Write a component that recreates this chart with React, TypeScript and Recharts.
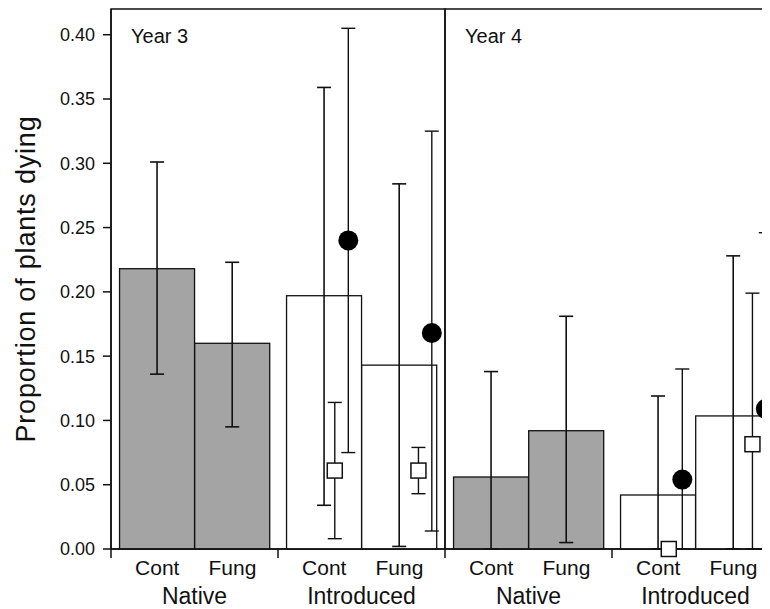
import React from 'react';
import {
  ComposedChart,
  Bar,
  Cell,
  Scatter,
  ErrorBar,
  XAxis,
  YAxis,
  ReferenceArea,
} from 'recharts';

const panels = ['Year 3', 'Year 4'];
const origins = ['Native', 'Introduced'];
const treatments = ['Cont', 'Fung'];

// bars, ordered panel -> origin -> treatment
const barMean = [0.218, 0.16, 0.197, 0.143, 0.056, 0.092, 0.042, 0.1035];
const barLow = [0.136, 0.095, 0.034, 0.002, 0, 0.005, 0, 0];
const barHigh = [0.301, 0.223, 0.359, 0.284, 0.138, 0.181, 0.119, 0.228];

// extra estimates for introduced plants only, ordered panel -> treatment
const circleMean = [0.24, 0.168, 0.054, 0.109];
const circleLow = [0.075, 0.014, 0, 0];
const circleHigh = [0.405, 0.325, 0.14, 0.246];

const squareMean = [0.061, 0.061, 0, 0.0815];
const squareLow = [0.008, 0.043, 0, 0];
const squareHigh = [0.114, 0.079, 0, 0.199];

const yTicks = [0, 0.05, 0.1, 0.15, 0.2, 0.25, 0.3, 0.35, 0.4];

// each origin group takes one unit of the x axis, a panel two
const TREAT_POS = [0.277, 0.727];
const SQUARE_SHIFT = [0.063, 0.114];
const CIRCLE_SHIFT = [0.144, 0.194];
const BAR_W = 75;

const FONT = '"Liberation Sans", Arial, Helvetica, sans-serif';
const INK = '#111';

const barRows = barMean.map((mean, i) => {
  const p = Math.floor(i / 4);
  const o = Math.floor(i / 2) % 2;
  const t = i % 2;
  return {
    x: p * 2 + o + TREAT_POS[t],
    mean,
    err: [mean - barLow[i], barHigh[i] - mean],
    origin: origins[o],
  };
});

const introRows = (means: number[], lows: number[], highs: number[], shift: number[]) =>
  means.map((mean, i) => {
    const p = Math.floor(i / 2);
    const t = i % 2;
    return {
      x: p * 2 + 1 + TREAT_POS[t] + shift[t],
      mean,
      err: [mean - lows[i], highs[i] - mean],
    };
  });

const circleRows = introRows(circleMean, circleLow, circleHigh, CIRCLE_SHIFT);
const squareRows = introRows(squareMean, squareLow, squareHigh, SQUARE_SHIFT);

// x ticks: group borders get a mark, bars a treatment name, groups an origin name
const tickInfo: Record<string, { kind: string; text?: string }> = {};
const xTicks: number[] = [];
panels.forEach((_, p) => {
  origins.forEach((origin, o) => {
    const base = p * 2 + o;
    xTicks.push(base);
    tickInfo[base.toFixed(3)] = { kind: 'mark' };
    treatments.forEach((tr, t) => {
      const v = base + TREAT_POS[t];
      xTicks.push(v);
      tickInfo[v.toFixed(3)] = { kind: 'treat', text: tr };
    });
    const c = base + 0.5;
    xTicks.push(c);
    tickInfo[c.toFixed(3)] = { kind: 'origin', text: origin };
  });
});
xTicks.sort((a, b) => a - b);

const XTick = ({ x, y, payload }: any) => {
  const info = tickInfo[Number(payload.value).toFixed(3)];
  if (!info) return null;
  if (info.kind === 'mark') {
    return <line x1={x} x2={x} y1={y} y2={y + 9} stroke={INK} strokeWidth={1.5} />;
  }
  const isTreat = info.kind === 'treat';
  return (
    <text
      x={x}
      y={y + (isTreat ? 26 : 55)}
      textAnchor="middle"
      fontFamily={FONT}
      fontSize={isTreat ? 21 : 23}
      fill={INK}
    >
      {info.text}
    </text>
  );
};

// bar drawn at a fixed width around the centre recharts computes
const BarShape = (props: any) => {
  const cx = props.x + props.width / 2;
  return (
    <rect
      x={cx - BAR_W / 2}
      y={props.y}
      width={BAR_W}
      height={props.height}
      fill={props.fill}
      stroke={INK}
      strokeWidth={1.3}
    />
  );
};

const Circle = (props: any) => <circle cx={props.cx} cy={props.cy} r={10} fill="#000" />;
const Square = (props: any) => (
  <rect
    x={props.cx - 7.5}
    y={props.cy - 7.5}
    width={15}
    height={15}
    fill="#fff"
    stroke={INK}
    strokeWidth={1.5}
  />
);

export default function App() {
  return (
    <div style={{ width: 762, height: 601, overflow: 'hidden' }}>
      <ComposedChart
        width={771}
        height={601}
        data={barRows}
        margin={{ top: 1, right: 0, bottom: 0, left: 0 }}
      >
        <XAxis
          dataKey="x"
          type="number"
          domain={[0, 4]}
          ticks={xTicks}
          interval={0}
          tick={<XTick />}
          tickLine={false}
          tickSize={0}
          tickMargin={0}
          height={60}
          axisLine={{ stroke: INK, strokeWidth: 1.5 }}
        />
        <YAxis
          type="number"
          domain={[0, 0.42]}
          ticks={yTicks}
          interval={0}
          width={103}
          tickSize={8}
          tickMargin={8}
          tickFormatter={(v: number) => v.toFixed(2)}
          tick={{ fill: INK, fontSize: 18, fontFamily: FONT }}
          tickLine={{ stroke: INK, strokeWidth: 1.5 }}
          axisLine={{ stroke: INK, strokeWidth: 1.5 }}
          label={{
            value: 'Proportion of plants dying',
            angle: -90,
            position: 'insideLeft',
            offset: 17,
            fontSize: 27,
            fontFamily: FONT,
            fill: INK,
            letterSpacing: 0.8,
            style: { textAnchor: 'middle' },
          }}
        />
        <Bar dataKey="mean" shape={<BarShape />} isAnimationActive={false}>
          {barRows.map((r, i) => (
            <Cell key={i} fill={r.origin === 'Native' ? '#a4a4a4' : '#ffffff'} />
          ))}
          <ErrorBar dataKey="err" direction="y" width={7} stroke={INK} strokeWidth={1.6} />
        </Bar>
        {panels.map((name, p) => (
          <ReferenceArea
            key={name}
            x1={p * 2}
            x2={p * 2 + 2}
            y1={0}
            y2={0.42}
            fill="none"
            stroke={INK}
            strokeWidth={1.5}
            ifOverflow="visible"
            label={{
              value: name,
              position: 'insideTopLeft',
              offset: 20,
              fontSize: 20,
              fontFamily: FONT,
              fill: INK,
            }}
          />
        ))}
        <Scatter data={circleRows} dataKey="mean" shape={<Circle />} isAnimationActive={false}>
          <ErrorBar dataKey="err" direction="y" width={7} stroke={INK} strokeWidth={1.4} />
        </Scatter>
        <Scatter data={squareRows} dataKey="mean" shape={<Square />} isAnimationActive={false}>
          <ErrorBar dataKey="err" direction="y" width={7} stroke={INK} strokeWidth={1.4} />
        </Scatter>
      </ComposedChart>
    </div>
  );
}
